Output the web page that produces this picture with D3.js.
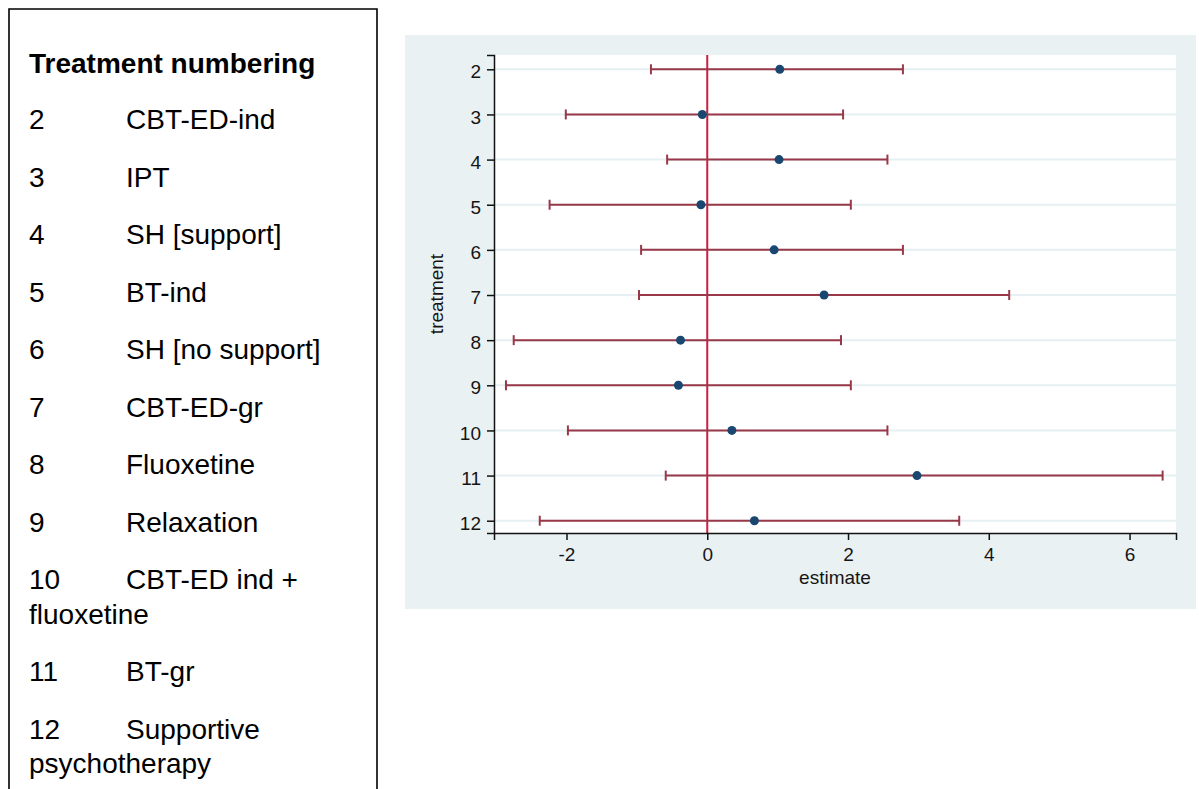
<!DOCTYPE html>
<html>
<head>
<meta charset="utf-8">
<script src="https://cdn.jsdelivr.net/npm/d3@7"></script>
<style>
body {
  margin: 0;
  background: #ffffff;
}
svg text {
  font-family: "Liberation Sans", Arial, Helvetica, sans-serif;
}
.axis path, .axis line {
  stroke: #111;
  stroke-width: 1.5;
}
.axis text {
  font-size: 19px;
  fill: #151515;
}
</style>
</head>
<body>
<div id="plot"></div>

<script>
// treatment numbers and names for the key box
var treatmentIds = [2, 3, 4, 5, 6, 7, 8, 9, 10, 11, 12];
var treatmentNames = ["CBT-ED-ind", "IPT", "SH [support]", "BT-ind", "SH [no support]",
  "CBT-ED-gr", "Fluoxetine", "Relaxation", "CBT-ED ind + fluoxetine", "BT-gr",
  "Supportive psychotherapy"];

// estimates with lower / upper limits
var estimate = [1.03, -0.07, 1.02, -0.09, 0.95, 1.66, -0.38, -0.41, 0.35, 2.98, 0.67];
var lower    = [-0.80, -2.01, -0.57, -2.24, -0.94, -0.97, -2.75, -2.86, -1.98, -0.59, -2.38];
var upper    = [2.78, 1.93, 2.56, 2.04, 2.78, 4.29, 1.90, 2.04, 2.56, 6.47, 3.58];

var xTicks = [-2, 0, 2, 4, 6];
var yTicks = [2, 3, 4, 5, 6, 7, 8, 9, 10, 11, 12];

var W = 1199, H = 789;

var svg = d3.select('#plot')
  .append('svg')
  .attr('width', W)
  .attr('height', H);

//---------------- key box on the left ----------------
var box = {left: 9, right: 377, top: 9};

svg.append('path')
  .attr('d', 'M' + box.left + ',' + H + 'V' + box.top + 'H' + box.right + 'V' + H)
  .attr('fill', 'none')
  .attr('stroke', '#000')
  .attr('stroke-width', 1.6);

svg.append('text')
  .attr('x', 29)
  .attr('y', 73)
  .style('font-size', '28px')
  .style('font-weight', 'bold')
  .text('Treatment numbering');

var numX = 29, nameX = 126, maxRight = 362;
var itemStep = 57.5, wrapStep = 34.5;
var cursor = 129;

treatmentIds.forEach(function(id, i){
  svg.append('text')
    .attr('x', numX)
    .attr('y', cursor)
    .style('font-size', '28px')
    .text(id);

  // simple word wrap, continuation lines go back to the left margin
  var words = treatmentNames[i].split(' ');
  var lineX = nameX;
  var t = svg.append('text')
    .attr('x', lineX)
    .attr('y', cursor)
    .style('font-size', '28px');
  var line = [];
  words.forEach(function(w){
    line.push(w);
    t.text(line.join(' '));
    if (lineX + t.node().getComputedTextLength() > maxRight && line.length > 1) {
      line.pop();
      t.text(line.join(' '));
      cursor += wrapStep;
      lineX = numX;
      line = [w];
      t = svg.append('text')
        .attr('x', lineX)
        .attr('y', cursor)
        .style('font-size', '28px')
        .text(w);
    }
  });
  cursor += itemStep;
});

//---------------- estimate plot ----------------
var panel = {left: 405, top: 35, right: 1196, bottom: 609};
var plot = {left: 494, top: 55, right: 1176, bottom: 533};

svg.append('rect')
  .attr('x', panel.left)
  .attr('y', panel.top)
  .attr('width', panel.right - panel.left)
  .attr('height', panel.bottom - panel.top)
  .attr('fill', '#eaf1f3');

svg.append('rect')
  .attr('x', plot.left)
  .attr('y', plot.top)
  .attr('width', plot.right - plot.left)
  .attr('height', plot.bottom - plot.top)
  .attr('fill', '#ffffff');

var x = d3.scaleLinear()
  .domain([-3.03, 6.66])
  .range([plot.left, plot.right]);

var y = d3.scaleLinear()
  .domain([1.683, 12.272])
  .range([plot.top, plot.bottom]);

// grid lines
svg.append('g')
  .selectAll('line')
  .data(yTicks)
  .enter().append('line')
    .attr('x1', plot.left)
    .attr('x2', plot.right)
    .attr('y1', function(d){ return y(d); })
    .attr('y2', function(d){ return y(d); })
    .attr('stroke', '#e6eff1')
    .attr('stroke-width', 2);

// reference line at zero
svg.append('line')
  .attr('x1', x(0))
  .attr('x2', x(0))
  .attr('y1', plot.top)
  .attr('y2', plot.bottom)
  .attr('stroke', '#c91f40')
  .attr('stroke-width', 2);

var rows = treatmentIds.map(function(id, i){
  return {id: id, est: estimate[i], lo: lower[i], hi: upper[i]};
});

var capH = 5;
var barColor = '#983849';

var bars = svg.append('g').selectAll('g')
  .data(rows)
  .enter().append('g');

bars.append('line')
  .attr('x1', function(d){ return x(d.lo); })
  .attr('x2', function(d){ return x(d.hi); })
  .attr('y1', function(d){ return y(d.id); })
  .attr('y2', function(d){ return y(d.id); })
  .attr('stroke', barColor)
  .attr('stroke-width', 2);

bars.append('line')
  .attr('x1', function(d){ return x(d.lo); })
  .attr('x2', function(d){ return x(d.lo); })
  .attr('y1', function(d){ return y(d.id) - capH; })
  .attr('y2', function(d){ return y(d.id) + capH; })
  .attr('stroke', barColor)
  .attr('stroke-width', 2);

bars.append('line')
  .attr('x1', function(d){ return x(d.hi); })
  .attr('x2', function(d){ return x(d.hi); })
  .attr('y1', function(d){ return y(d.id) - capH; })
  .attr('y2', function(d){ return y(d.id) + capH; })
  .attr('stroke', barColor)
  .attr('stroke-width', 2);

bars.append('circle')
  .attr('cx', function(d){ return x(d.est); })
  .attr('cy', function(d){ return y(d.id); })
  .attr('r', 4.5)
  .attr('fill', '#1a476f');

// axes (plain hyphen for negatives, like the original)
var xAxis = d3.axisBottom(x)
  .tickValues(xTicks)
  .tickSizeOuter(0)
  .tickSize(7)
  .tickPadding(8)
  .tickFormat(function(d){ return String(d); });

svg.append('g')
  .attr('class', 'axis')
  .attr('transform', 'translate(0,' + plot.bottom + ')')
  .call(xAxis);

var yAxis = d3.axisLeft(y)
  .tickValues(yTicks)
  .tickSizeOuter(0)
  .tickSize(7)
  .tickPadding(6)
  .tickFormat(function(d){ return String(d); });

svg.append('g')
  .attr('class', 'axis')
  .attr('transform', 'translate(' + plot.left + ',0)')
  .call(yAxis)
  .selectAll('text')
    .attr('dy', '0.45em');

// axis titles
svg.append('text')
  .attr('x', (plot.left + plot.right) / 2)
  .attr('y', 584)
  .attr('text-anchor', 'middle')
  .style('font-size', '19px')
  .style('fill', '#151515')
  .text('estimate');

svg.append('text')
  .attr('transform', 'translate(443,' + (plot.top + plot.bottom) / 2 + ') rotate(-90)')
  .attr('text-anchor', 'middle')
  .style('font-size', '19px')
  .style('fill', '#151515')
  .text('treatment');
</script>
</body>
</html>
